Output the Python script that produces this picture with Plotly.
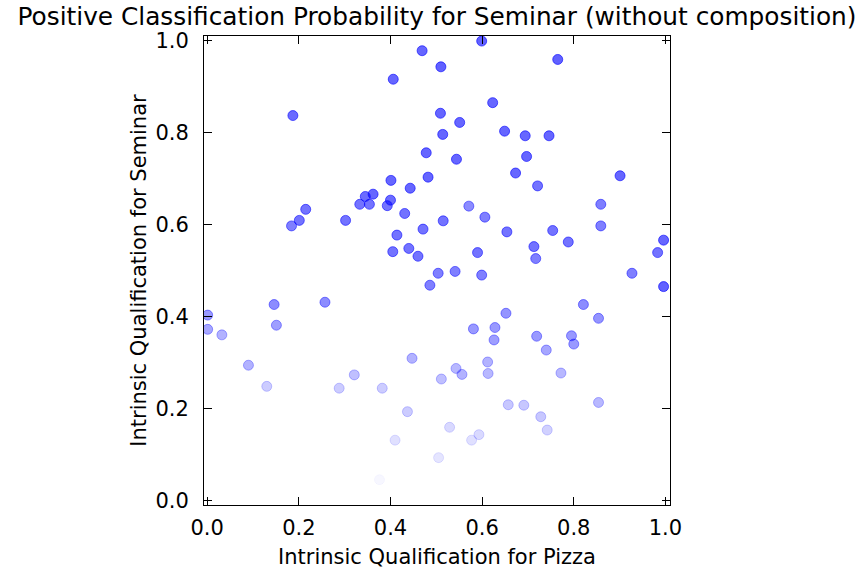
import plotly.graph_objects as go

pizza = [0.469, 0.406, 0.187, 0.478, 0.482, 0.401, 0.443, 0.362, 0.345, 0.333,
         0.354, 0.400, 0.393, 0.215, 0.431, 0.201, 0.302, 0.184, 0.471, 0.414,
         0.405, 0.440, 0.460,
         0.599, 0.510, 0.765, 0.623, 0.509, 0.551, 0.514, 0.649, 0.694, 0.746,
         0.544, 0.697, 0.673, 0.901, 0.721, 0.571, 0.859, 0.606, 0.515, 0.859,
         0.654, 0.754, 0.788, 0.996, 0.713, 0.590, 0.983, 0.717,
         0.504, 0.541, 0.599, 0.927, 0.486, 0.996, 0.821, 0.854, 0.652, 0.581,
         0.628, 0.626, 0.719, 0.795, 0.800, 0.740, 0.612, 0.543, 0.556, 0.613,
         0.772, 0.511, 0.657, 0.691, 0.854, 0.728, 0.742, 0.529, 0.593, 0.577,
         0.505,
         0.001, 0.146, 0.257, 0.001, 0.032, 0.151, 0.090, 0.321, 0.447, 0.130,
         0.288, 0.382, 0.437, 0.410, 0.376]

seminar = [0.978, 0.916, 0.837, 0.756, 0.703, 0.696, 0.679, 0.666, 0.661, 0.644,
           0.644, 0.653, 0.641, 0.633, 0.624, 0.609, 0.609, 0.597, 0.590, 0.577,
           0.541, 0.548, 0.531,
           0.999, 0.943, 0.959, 0.865, 0.842, 0.822, 0.796, 0.803, 0.793, 0.793,
           0.742, 0.748, 0.712, 0.706, 0.684, 0.640, 0.644, 0.616, 0.608, 0.597,
           0.584, 0.587, 0.562, 0.566, 0.552, 0.539, 0.539, 0.526,
           0.494, 0.498, 0.490, 0.494, 0.468, 0.465, 0.426, 0.396, 0.407, 0.373,
           0.376, 0.349, 0.357, 0.358, 0.340, 0.327, 0.301, 0.287, 0.274, 0.276,
           0.277, 0.264, 0.208, 0.207, 0.213, 0.182, 0.153, 0.159, 0.143, 0.131,
           0.093,
           0.403, 0.426, 0.431, 0.372, 0.360, 0.381, 0.294, 0.273, 0.309, 0.248,
           0.244, 0.244, 0.193, 0.131, 0.045]

# visual opacity of each point (positive classification probability, as drawn)
prob = [0.6, 0.6, 0.58, 0.6, 0.6, 0.6, 0.6, 0.6, 0.58, 0.55,
        0.55, 0.58, 0.55, 0.55, 0.55, 0.55, 0.55, 0.5, 0.55, 0.55,
        0.55, 0.55, 0.55,
        0.62, 0.62, 0.62, 0.6, 0.6, 0.6, 0.6, 0.6, 0.6, 0.6,
        0.6, 0.6, 0.6, 0.6, 0.55, 0.45, 0.5, 0.5, 0.55, 0.5,
        0.55, 0.55, 0.55, 0.6, 0.55, 0.55, 0.55, 0.5,
        0.5, 0.5, 0.5, 0.5, 0.5, 0.62, 0.45, 0.42, 0.42, 0.4,
        0.4, 0.38, 0.4, 0.4, 0.4, 0.35, 0.3, 0.28, 0.3, 0.28,
        0.28, 0.25, 0.22, 0.22, 0.28, 0.22, 0.18, 0.15, 0.15, 0.12,
        0.1,
        0.4, 0.45, 0.45, 0.35, 0.3, 0.38, 0.3, 0.25, 0.3, 0.2,
        0.2, 0.2, 0.2, 0.12, 0.03]

x_ticks = [0.0, 0.2, 0.4, 0.6, 0.8, 1.0]
y_ticks = [0.0, 0.2, 0.4, 0.6, 0.8, 1.0]

fills = [f"rgba(0,0,255,{a})" for a in prob]

fig = go.Figure(go.Scatter(
    x=pizza, y=seminar, mode="markers",
    marker=dict(size=10, color=fills, line=dict(color=fills, width=1)),
    showlegend=False, hoverinfo="x+y",
))

font = "DejaVu Sans, sans-serif"
axis_common = dict(
    showline=True, linecolor="black", linewidth=1, mirror="ticks",
    ticks="inside", ticklen=8, tickwidth=1, tickcolor="black",
    showgrid=False, zeroline=False, automargin=False,
    tickfont=dict(family=font, size=21, color="black"),
    tickformat=".1f",
)

fig.update_layout(
    width=862, height=569,
    margin=dict(l=204, r=192, t=36, b=64, autoexpand=False),
    paper_bgcolor="white", plot_bgcolor="white",
    title=dict(text="Positive Classification Probability for Seminar (without composition)",
               x=0.5, xref="paper", y=0.972, yref="container", yanchor="middle",
               font=dict(family=font, size=24.8, color="black")),
    xaxis=dict(range=[-0.007, 1.010], tickvals=x_ticks, ticklabelstandoff=4,
               title=dict(text="Intrinsic Qualification for Pizza", standoff=10,
                          font=dict(family=font, size=21, color="black")),
               **axis_common),
    yaxis=dict(range=[-0.010, 1.010], tickvals=y_ticks, ticklabelstandoff=10,
               title=dict(text="Intrinsic Qualification for Seminar", standoff=3,
                          font=dict(family=font, size=21, color="black")),
               **axis_common),
)

fig.write_html("out.html", config={"displayModeBar": False},
               post_script="document.body.style.margin='0';")
